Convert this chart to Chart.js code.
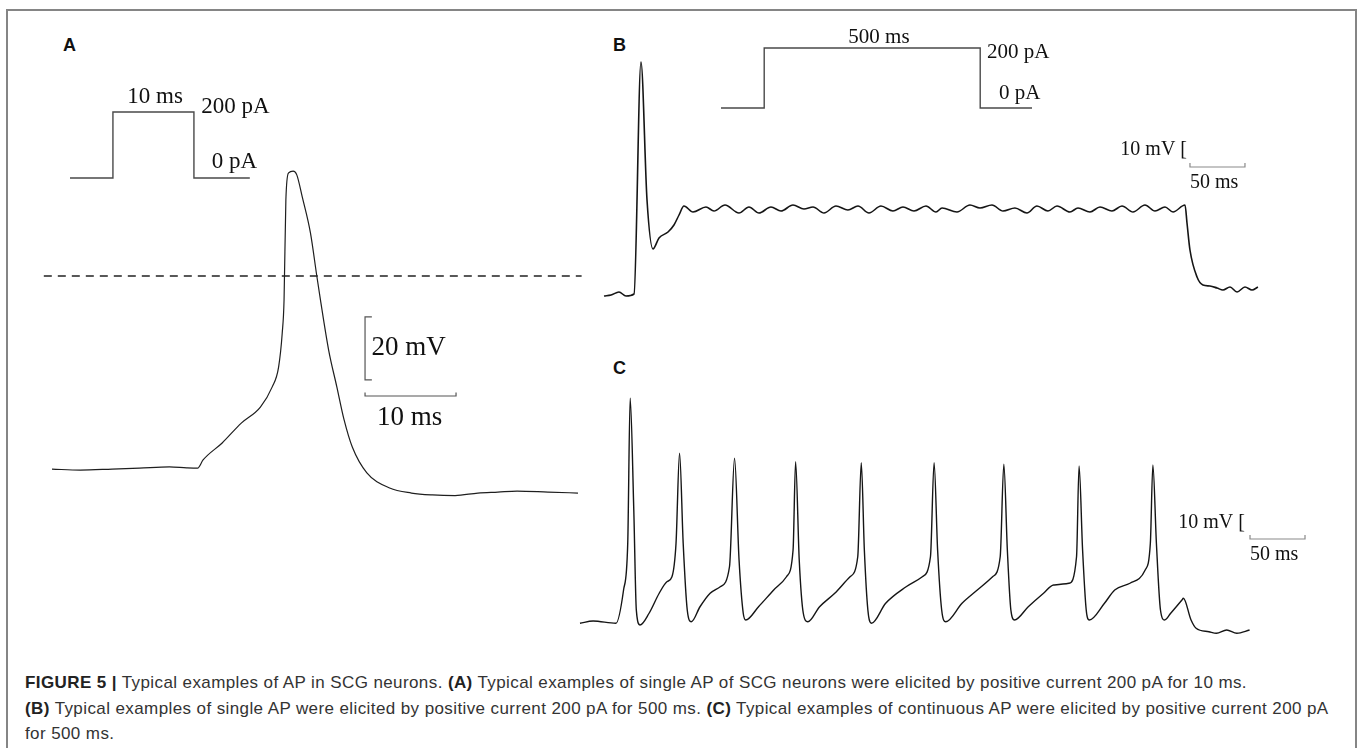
<!DOCTYPE html>
<html>
<head>
<meta charset="utf-8">
<script src="https://cdn.jsdelivr.net/npm/chart.js@4.4.0/dist/chart.umd.min.js"></script>
<style>
  body { margin: 0; background: #fff; width: 1358px; height: 748px; overflow: hidden; position: relative; font-family: "Liberation Sans", Arial, sans-serif; }
  .frame { position: absolute; left: 6px; top: 9px; width: 1347px; height: 800px; border: 2px solid #858585; border-bottom: none; }
  .panel { position: absolute; }
  .letter { position: absolute; font: bold 18px "Liberation Sans", Arial, sans-serif; line-height: 20px; color: #111; }
  .caption { position: absolute; left: 25px; top: 670px; font-size: 17px; letter-spacing: 0.4px; line-height: 25.5px; color: #333; white-space: nowrap; }
  .caption b { color: #222; }
</style>
</head>
<body>
<div class="frame"></div>
<div class="letter" style="left:63px;top:35px">A</div>
<div class="letter" style="left:613px;top:35px">B</div>
<div class="letter" style="left:613px;top:358px">C</div>

<div class="panel" id="aStim"><canvas></canvas></div>
<div class="panel" id="aTrace"><canvas></canvas></div>
<div class="panel" id="bStim"><canvas></canvas></div>
<div class="panel" id="bTrace"><canvas></canvas></div>
<div class="panel" id="cTrace"><canvas></canvas></div>

<div class="caption">
<b>FIGURE 5 |</b> Typical examples of AP in SCG neurons. <b>(A)</b> Typical examples of single AP of SCG neurons were elicited by positive current 200 pA for 10 ms.<br>
<b>(B)</b> Typical examples of single AP were elicited by positive current 200 pA for 500 ms. <b>(C)</b> Typical examples of continuous AP were elicited by positive current 200 pA<br>
for 500 ms.
</div>

<script>
// panel A: 10 ms step, single AP (time in ms, membrane potential in mV)
const aStimTime = [0, 5.3, 5.3, 15.3, 15.3, 22.2];
const aStimCurrent = [0, 0, 200, 200, 0, 0];
const aTime = [0, 3.1, 6.6, 9.6, 12.9, 14.8, 16.0, 16.6, 18.7, 20.8, 22.9, 24.2, 24.9, 25.3, 25.5, 25.7, 26.0,
  26.5, 26.9, 27.5, 28.4, 29.1, 29.5, 30.4, 31.3, 32.1, 33.0, 34.6, 37.1, 39.5, 41.8, 44.3, 46.8, 49.0, 51.1, 54.5, 57.8];
const aVolt = [-61.3, -61.6, -61.3, -61.0, -60.6, -60.9, -61.0, -58.4, -53.0, -46.7, -41.6, -35.2, -28.9, -18.1, -7.6, 24.1, 32.7,
  33.3, 32.1, 25.1, 13.7, 0, -7.6, -23.5, -35.2, -45.7, -54.3, -62.5, -67.3, -68.9, -69.5, -69.7, -68.9, -68.6, -68.3, -68.6, -68.9];
const aZeroLine = [-0.9, 58.2];

// panel B: 500 ms step, single AP then plateau
const bStimTime = [0, 100, 100, 600, 600, 720];
const bStimCurrent = [0, 0, 200, 200, 0, 0];
const bTime = [0, 6.4, 13.6, 20, 27.3, 33.6, 39.1, 44.5, 50, 58.2,
  63.6, 68.2, 72.7, 80.9, 92.7, 100, 110, 122.7, 131.8, 140.9,
  151.8, 160.9, 171.8, 181.8, 190, 200, 210.9, 221.8, 230.9, 240.9,
  251.8, 262.7, 271.8, 281.8, 292.7, 301.8, 307.3, 320.9, 332.7, 341.8,
  352.7, 362.7, 373.6, 384.5, 393.6, 403.6, 411.8, 423.6, 430.9, 441.8,
  450.9, 461.8, 470.9, 480.9, 491.8, 500.9, 510, 517.3, 528.2, 530,
  532.7, 539.1, 544.5, 550.9, 557.3, 562.7, 569.1, 575.5, 582.7, 589.1, 594.5];
const bVolt = [-60.4, -60, -58.8, -60.4, -59.6, 33.2, -22, -41.6, -37.2, -34.8,
  -32, -28, -24.4, -26.8, -24.8, -26.4, -24, -27.2, -24.8, -27.2,
  -24.8, -26.4, -24, -25.6, -24.8, -27.2, -24.4, -26, -24.4, -27.2,
  -24.4, -26.4, -24.8, -26.4, -24.4, -26.8, -25.2, -26.8, -24, -25.2,
  -24, -26.4, -25.2, -27.2, -24.4, -26.4, -24.4, -26.8, -25.2, -26.8,
  -24.8, -26.4, -24.4, -26.8, -24, -26.4, -24.8, -26.8, -24, -31.2,
  -42, -52.8, -56, -56.4, -57.2, -58, -56.8, -58.8, -56.8, -58, -56.8];

// panel C: 500 ms step, repetitive firing
const cTime = [0, 11.9, 32.7, 39.6, 43.4, 45.6, 48.9, 51.2, 54.5, 62.8,
  72, 79, 83.6, 87.3, 90.5, 93.8, 97.5, 101.2, 109.1, 118.3,
  127.5, 135.9, 140.5, 144.6, 148.4, 150.7, 162.3, 176.1, 187.7, 193.7,
  196, 199.3, 203, 207.1, 217.8, 231.6, 245.5, 252.5, 255.7, 258.5,
  261.7, 265, 277.9, 296.5, 311.2, 318.6, 321.9, 325.1, 328.8, 332.5,
  347.3, 361.2, 375.1, 382, 385.3, 388.5, 391.7, 395, 407.5, 421.4,
  430.6, 444.5, 451.4, 453.7, 456.9, 460.2, 463, 476.8, 486.1, 500,
  513.8, 518.5, 520.8, 524, 527.7, 531.5, 537, 547.2, 548.5, 555.5,
  560.1, 571.7, 578.6, 587.9, 597.1, 608.7];
const cVolt = [-60.1, -59.2, -60.1, -46.8, -28.1, 29.9, -14.8, -54.8, -60.8, -56.1,
  -48.1, -43.5, -41.5, -28.1, 7.9, -28.1, -54.8, -59.5, -53.5, -48.1,
  -45.5, -37.5, 5.9, -34.8, -56.1, -58.8, -53.5, -46.8, -41.5, -30.8,
  4.5, -34.8, -56.1, -59.5, -53.5, -48.1, -41.5, -33.5, 4.1, -30.8,
  -54.8, -60.1, -52.1, -45.5, -41.5, -33.5, 4.1, -30.8, -54.8, -59.5,
  -52.1, -46.8, -41.5, -33.5, 3.5, -30.8, -54.8, -58.8, -53.5, -48.1,
  -44.8, -44.1, -33.5, 2.8, -30.8, -54.8, -58.8, -52.1, -46.8, -44.1,
  -38.8, -28.1, 3.2, -28.1, -54.8, -58.8, -56.1, -50.8, -50.1, -58.8,
  -62.1, -63.5, -64.1, -62.8, -64.1, -62.8];

// scale bars
const aScale = { ms: 10, mv: 20 };
const bcScale = { ms: 50, mv: 10 };

const serif = '"Liberation Serif", "Times New Roman", serif';

function line(xs, ys, color, width, extra) {
  return Object.assign({
    data: xs.map((x, i) => ({ x: x, y: ys[i] })),
    showLine: true, pointRadius: 0, borderColor: color, borderWidth: width, fill: false
  }, extra || {});
}

function labelPlugin(items) {
  return {
    id: 'labels',
    afterDatasetsDraw(chart) {
      const ctx = chart.ctx, sx = chart.scales.x, sy = chart.scales.y;
      items.forEach(it => {
        ctx.save();
        ctx.font = it.font;
        ctx.fillStyle = '#111';
        ctx.textAlign = it.align;
        ctx.textBaseline = 'middle';
        ctx.fillText(it.text, sx.getPixelForValue(it.x), sy.getPixelForValue(it.y));
        ctx.restore();
      });
    }
  };
}

// box = [left, top, width, height]; xa / ya tie one pixel to one value with a px-per-unit factor
function makeChart(id, box, xa, ya, datasets, labels) {
  const el = document.getElementById(id);
  el.style.left = box[0] + 'px';
  el.style.top = box[1] + 'px';
  el.style.width = box[2] + 'px';
  el.style.height = box[3] + 'px';
  const xMin = xa.value - (xa.px - box[0]) / xa.scale;
  const yMax = ya.value + (ya.px - box[1]) / ya.scale;
  return new Chart(el.querySelector('canvas'), {
    type: 'scatter',
    data: { datasets: datasets },
    options: {
      responsive: true,
      maintainAspectRatio: false,
      animation: false,
      events: [],
      layout: { padding: 0 },
      plugins: { legend: { display: false }, tooltip: { enabled: false } },
      scales: {
        x: { type: 'linear', display: false, min: xMin, max: xMin + box[2] / xa.scale },
        y: { type: 'linear', display: false, min: yMax - box[3] / ya.scale, max: yMax }
      }
    },
    plugins: [labelPlugin(labels || [])]
  });
}

function bracket(t, v, mv, tick) {
  return [[t + tick, t, t, t + tick], [v, v, v - mv, v - mv]];
}
function hbar(t, v, ms, tick) {
  return [[t, t, t + ms, t + ms], [v + tick, v, v, v + tick]];
}

// ---- panel A stimulus
makeChart('aStim', [55, 80, 240, 110], { px: 70, value: 0, scale: 8.1 }, { px: 178, value: 0, scale: 0.33 },
  [line(aStimTime, aStimCurrent, '#4a4a4a', 1.4)],
  [
    { text: '10 ms', x: 10.5, y: 245, align: 'center', font: '23px ' + serif },
    { text: '200 pA', x: 16.2, y: 215, align: 'left', font: '23px ' + serif },
    { text: '0 pA', x: 17.5, y: 48, align: 'left', font: '23px ' + serif }
  ]);

// ---- panel A trace
const aV = bracket(34.4, -13, aScale.mv, 0.75);
const aH = hbar(34.4, -38.1, aScale.ms, 1.1);
makeChart('aTrace', [30, 140, 570, 380], { px: 52, value: 0, scale: 9.1 }, { px: 276, value: 0, scale: 3.15 },
  [
    line(aZeroLine, [0, 0], '#222', 1.3, { borderDash: [8, 6] }),
    line(aTime, aVolt, '#1e1e1e', 1.2, { cubicInterpolationMode: 'monotone' }),
    line(aV[0], aV[1], '#555', 1.2),
    line(aH[0], aH[1], '#555', 1.2)
  ],
  [
    { text: aScale.mv + ' mV', x: 35.1, y: -22.9, align: 'left', font: '27px ' + serif },
    { text: aScale.ms + ' ms', x: 39.3, y: -45.1, align: 'center', font: '27px ' + serif }
  ]);

// ---- panel B stimulus
makeChart('bStim', [705, 20, 370, 100], { px: 721, value: 0, scale: 0.432 }, { px: 108, value: 0, scale: 0.3 },
  [line(bStimTime, bStimCurrent, '#4a4a4a', 1.4)],
  [
    { text: '500 ms', x: 365.7, y: 236.7, align: 'center', font: '21px ' + serif },
    { text: '200 pA', x: 615.7, y: 186.7, align: 'left', font: '21px ' + serif },
    { text: '0 pA', x: 643.5, y: 50, align: 'left', font: '21px ' + serif }
  ]);

// ---- panel B trace
const bH = hbar(532.7, -8.8, bcScale.ms, 1.6);
makeChart('bTrace', [596, 40, 680, 270], { px: 604, value: 0, scale: 1.1 }, { px: 295, value: -60, scale: 2.5 },
  [
    line(bTime, bVolt, '#151515', 1.6, { cubicInterpolationMode: 'monotone' }),
    line(bH[0], bH[1], '#8a8a8a', 1.2)
  ],
  [
    { text: bcScale.mv + ' mV [', x: 530, y: -2, align: 'right', font: '20px ' + serif },
    { text: bcScale.ms + ' ms', x: 532.7, y: -15.2, align: 'left', font: '20px ' + serif }
  ]);

// ---- panel C trace
const cH = hbar(609.1, -26.4, bcScale.ms, 1.6);
makeChart('cTrace', [570, 380, 760, 270], { px: 580, value: 0, scale: 1.1 }, { px: 623, value: -60, scale: 2.5 },
  [
    line(cTime, cVolt, '#151515', 1.4, { cubicInterpolationMode: 'monotone' }),
    line(cH[0], cH[1], '#8a8a8a', 1.2)
  ],
  [
    { text: bcScale.mv + ' mV [', x: 604.5, y: -20, align: 'right', font: '20px ' + serif },
    { text: bcScale.ms + ' ms', x: 609.1, y: -32.8, align: 'left', font: '20px ' + serif }
  ]);
</script>
</body>
</html>
